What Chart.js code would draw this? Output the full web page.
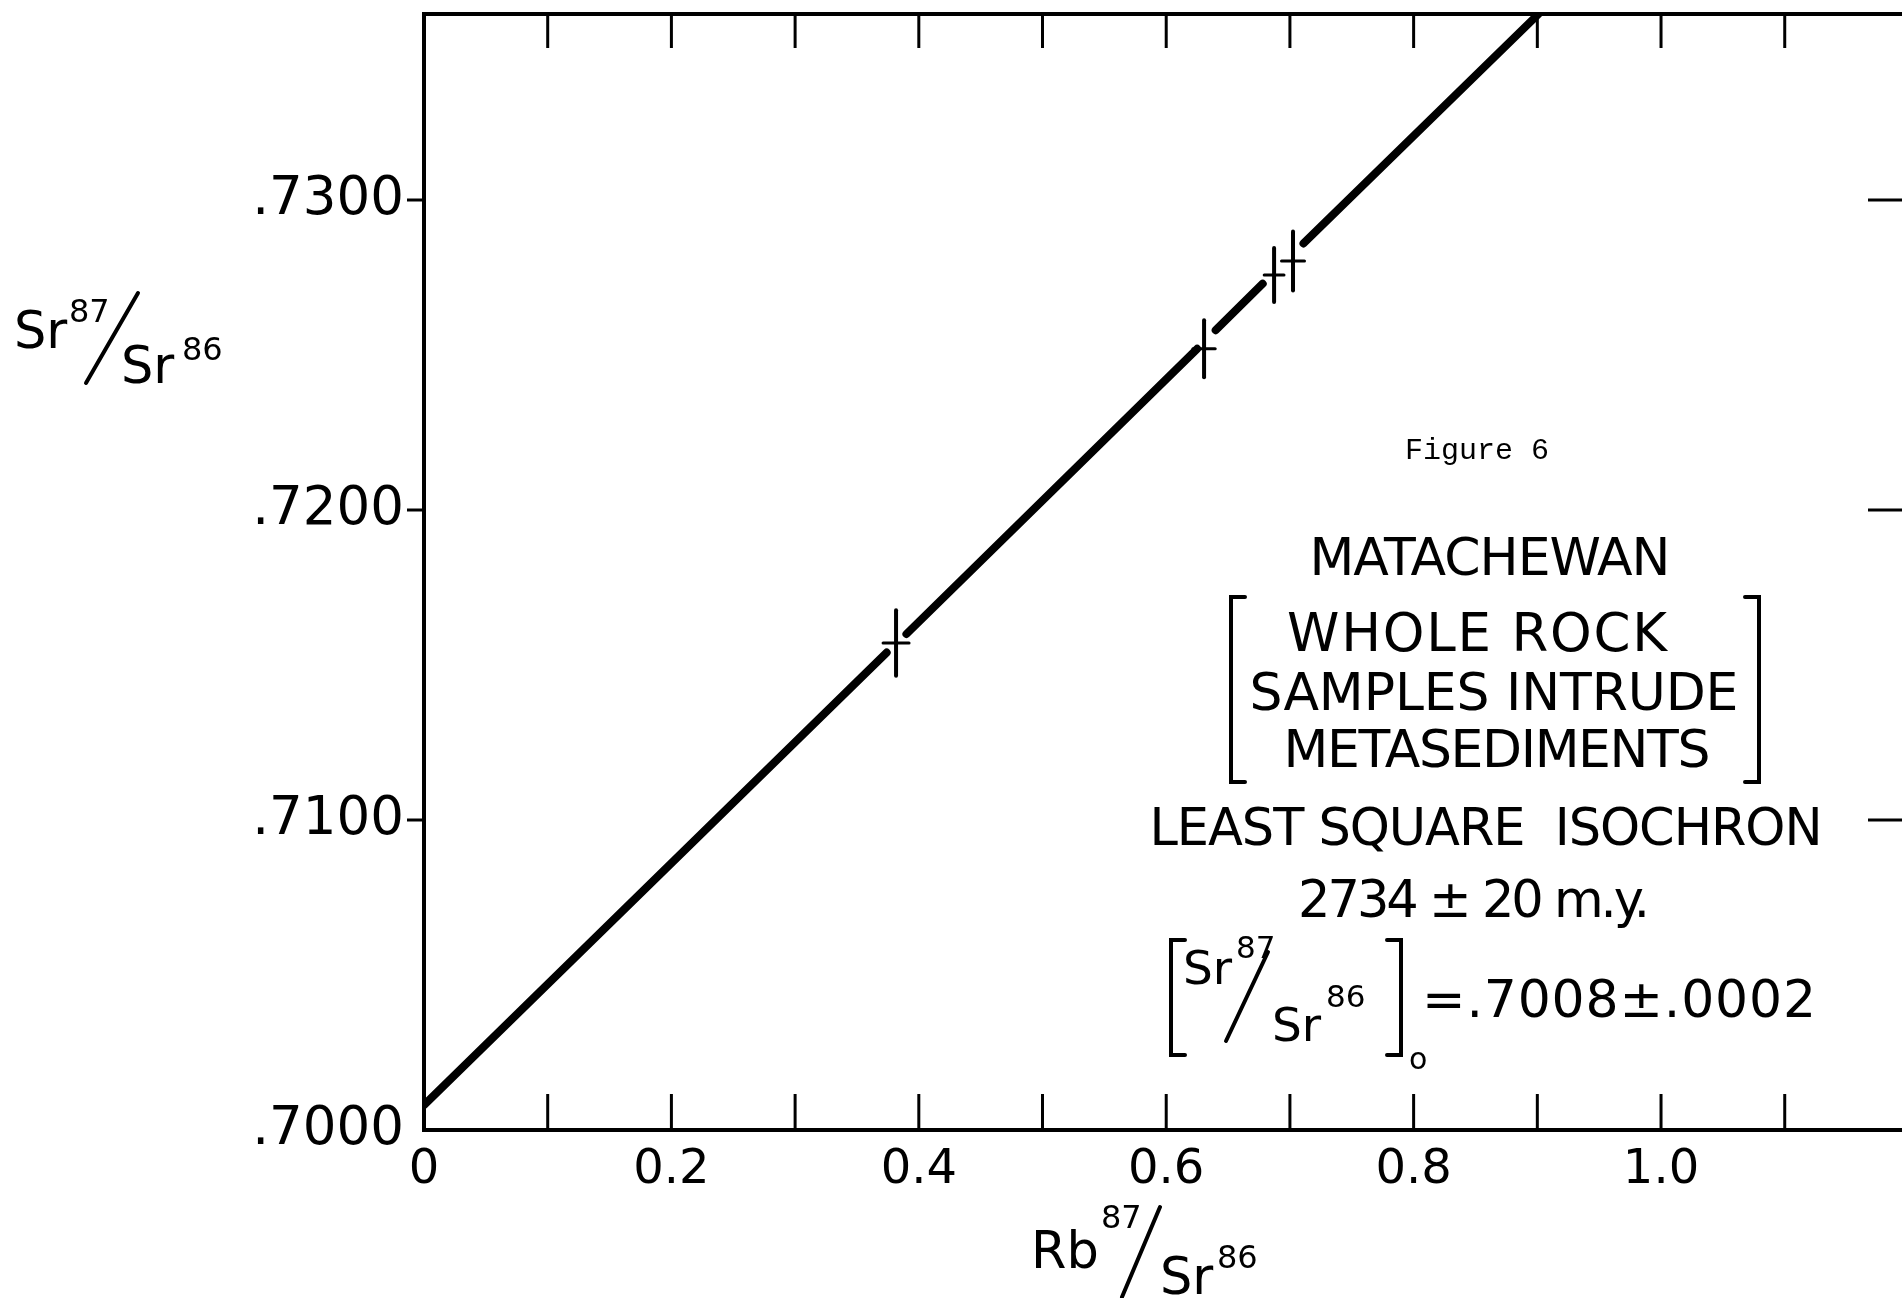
<!DOCTYPE html>
<html>
<head>
<meta charset="utf-8">
<script src="https://cdn.jsdelivr.net/npm/chart.js@4/dist/chart.umd.min.js"></script>
<style>
html,body{margin:0;padding:0;background:#fff;overflow:hidden}
canvas{display:block}
</style>
</head>
<body>
<canvas id="c" width="1902" height="1298"></canvas>
<script>
// ---- data ----
const xLabelValues = [0, 0.2, 0.4, 0.6, 0.8, 1.0];
const xLabelText = ['0', '0.2', '0.4', '0.6', '0.8', '1.0'];
const xTickMarks = [0.1, 0.2, 0.3, 0.4, 0.5, 0.6, 0.7, 0.8, 0.9, 1.0, 1.1];
const yLabelValues = [0.70, 0.71, 0.72, 0.73];
const yLabelText = ['.7000', '.7100', '.7200', '.7300'];
const yTickMarks = [0.71, 0.72, 0.73];

// whole-rock samples (Rb87/Sr86, Sr87/Sr86) with error-bar half widths
const sampleX = [0.3816, 0.6306, 0.6872, 0.7025];
const sampleY = [0.71571, 0.72520, 0.72758, 0.72803];
const sampleXErr = [0.0105, 0.0090, 0.0080, 0.0093];
const sampleYErr = [0.00106, 0.00092, 0.00087, 0.00095];

// least-squares isochron as drawn (broken around the sample crosses)
const isochronX = [0, 0.374, 0.382, 0.390, 0.625, 0.632, 0.640, 0.678, 0.694, 0.711, 0.901];
const isochronY = [0.7008, 0.7154, null, 0.7160, 0.7252, null, 0.7258, 0.7273, null, 0.7286, 0.7360];

const INK = '#000';

function fitText(ctx, s, x, y, size, family, targetW, align) {
  ctx.font = size + 'px ' + family;
  ctx.letterSpacing = '0px';
  const w = ctx.measureText(s).width;
  let ls = 0;
  if (targetW && s.length > 1) ls = (targetW - w) / (s.length - 1);
  ctx.letterSpacing = ls.toFixed(2) + 'px';
  ctx.textAlign = 'left';
  ctx.textBaseline = 'alphabetic';
  let left = x;
  const tw = w + ls * (s.length - 1);
  if (align === 'center') left = x - tw / 2;
  ctx.fillText(s, left, y);
  ctx.letterSpacing = '0px';
}
function plain(ctx, s, x, y, size, family) {
  ctx.font = size + 'px ' + family;
  ctx.letterSpacing = '0px';
  ctx.textAlign = 'left';
  ctx.textBaseline = 'alphabetic';
  ctx.fillText(s, x, y);
}
function seg(ctx, x1, y1, x2, y2, w) {
  ctx.lineWidth = w;
  ctx.beginPath();
  ctx.moveTo(x1, y1);
  ctx.lineTo(x2, y2);
  ctx.stroke();
}
function bracket(ctx, x, y1, y2, serif) {
  ctx.lineWidth = 4;
  ctx.beginPath();
  ctx.moveTo(x + serif, y1);
  ctx.lineTo(x, y1);
  ctx.lineTo(x, y2);
  ctx.lineTo(x + serif, y2);
  ctx.stroke();
}

const framePlugin = {
  id: 'frame',
  beforeDatasetsDraw(chart) {
    const {ctx, chartArea: a, scales: {x, y}} = chart;
    ctx.save();
    ctx.strokeStyle = INK;
    ctx.lineCap = 'butt';
    // top frame line
    seg(ctx, a.left - 2, a.top, a.right, a.top, 4);
    xTickMarks.forEach(v => {
      const px = x.getPixelForValue(v);
      seg(ctx, px, a.bottom, px, a.bottom - 36, 3);
      seg(ctx, px, a.top, px, a.top + 34, 3);
    });
    yTickMarks.forEach(v => {
      const py = y.getPixelForValue(v);
      seg(ctx, a.left - 17, py, a.left, py, 3);
      seg(ctx, a.right - 34, py, a.right, py, 3);
    });
    ctx.restore();
  }
};

const crossPlugin = {
  id: 'crosses',
  afterDatasetsDraw(chart) {
    const {ctx, scales: {x, y}} = chart;
    ctx.save();
    ctx.strokeStyle = INK;
    ctx.lineCap = 'round';
    sampleX.forEach((vx, i) => {
      const vy = sampleY[i];
      const px = x.getPixelForValue(vx), py = y.getPixelForValue(vy);
      seg(ctx, x.getPixelForValue(vx - sampleXErr[i]), py, x.getPixelForValue(vx + sampleXErr[i]), py, 3);
      seg(ctx, px, y.getPixelForValue(vy - sampleYErr[i]), px, y.getPixelForValue(vy + sampleYErr[i]), 4);
    });
    ctx.restore();
  }
};

const textPlugin = {
  id: 'texts',
  afterDraw(chart) {
    const ctx = chart.ctx;
    const F = '"DejaVu Sans", sans-serif';
    ctx.save();
    ctx.fillStyle = INK;
    ctx.strokeStyle = INK;
    ctx.lineCap = 'round';

    // y-axis title  Sr87/Sr86
    plain(ctx, 'Sr', 14, 348, 51, F);
    plain(ctx, '87', 69, 322, 32, F);
    seg(ctx, 86, 383, 138, 293, 4);
    plain(ctx, 'Sr', 121, 383, 51, F);
    plain(ctx, '86', 182, 360, 32, F);

    // x-axis title  Rb87/Sr86
    plain(ctx, 'Rb', 1031, 1268, 51, F);
    plain(ctx, '87', 1101, 1228, 32, F);
    seg(ctx, 1122, 1297, 1160, 1207, 4);
    plain(ctx, 'Sr', 1160, 1294, 51, F);
    plain(ctx, '86', 1217, 1268, 32, F);

    // annotation block
    ctx.font = '30px "Liberation Mono", "DejaVu Sans Mono", monospace';
    ctx.textAlign = 'center';
    ctx.textBaseline = 'alphabetic';
    ctx.fillText('Figure 6', 1477, 459);

    fitText(ctx, 'MATACHEWAN', 1490, 575, 52, F, 361, 'center');
    bracket(ctx, 1231, 597, 782, 14);
    bracket(ctx, 1759, 597, 782, -14);
    fitText(ctx, 'WHOLE ROCK', 1477, 651, 53, F, 380, 'center');
    fitText(ctx, 'SAMPLES INTRUDE', 1494, 710, 52, F, 489, 'center');
    fitText(ctx, 'METASEDIMENTS', 1497, 767, 52, F, 427, 'center');
    fitText(ctx, 'LEAST SQUARE  ISOCHRON', 1486, 845, 51, F, 673, 'center');
    fitText(ctx, '2734 \u00B1 20 m.y.', 1474, 917, 51, F, 352, 'center');

    // [Sr87/Sr86]o = .7008 ± .0002
    bracket(ctx, 1171, 940, 1055, 14);
    bracket(ctx, 1401, 940, 1055, -14);
    plain(ctx, 'Sr', 1183, 984, 47, F);
    plain(ctx, '87', 1236, 958, 31, F);
    seg(ctx, 1226, 1041, 1268, 952, 4);
    plain(ctx, 'Sr', 1272, 1041, 47, F);
    plain(ctx, '86', 1326, 1007, 31, F);
    plain(ctx, 'o', 1409, 1069, 30, F);
    fitText(ctx, '=.7008\u00B1.0002', 1422, 1017, 52, F, 394, 'left');
    ctx.restore();
  }
};

new Chart(document.getElementById('c'), {
  type: 'scatter',
  data: {
    datasets: [
      {
        label: 'Least square isochron',
        data: isochronX.map((x, i) => ({x: x, y: isochronY[i]})),
        showLine: true,
        spanGaps: false,
        borderColor: INK,
        borderWidth: 8,
        borderCapStyle: 'round',
        pointRadius: 0,
        clip: 0
      },
      {
        label: 'Whole rock samples',
        data: sampleX.map((x, i) => ({x: x, y: sampleY[i]})),
        showLine: false,
        pointRadius: 0
      }
    ]
  },
  options: {
    responsive: false,
    animation: false,
    devicePixelRatio: 1,
    layout: {padding: {top: 14, right: 0, bottom: 0, left: 0}},
    plugins: {legend: {display: false}, tooltip: {enabled: false}},
    scales: {
      x: {
        type: 'linear',
        min: 0,
        max: 1.1948,
        grid: {display: false, drawTicks: false},
        border: {display: true, color: INK, width: 4},
        afterBuildTicks: s => { s.ticks = xLabelValues.map(v => ({value: v})); },
        afterFit: s => { s.height = 168; s.paddingLeft = 0; s.paddingRight = 0; },
        ticks: {
          autoSkip: false, maxRotation: 0, minRotation: 0, padding: 12, color: INK,
          font: {family: 'DejaVu Sans', size: 48},
          callback: (v, i) => xLabelText[i]
        }
      },
      y: {
        type: 'linear',
        min: 0.7,
        max: 0.736,
        grid: {display: false, drawTicks: false},
        border: {display: true, color: INK, width: 4},
        afterBuildTicks: s => { s.ticks = yLabelValues.map(v => ({value: v})); },
        afterFit: s => { s.width = 424; s.paddingTop = 0; s.paddingBottom = 0; },
        ticks: {
          autoSkip: false, padding: 20, color: INK,
          font: {family: 'DejaVu Sans', size: 53},
          callback: (v, i) => yLabelText[i]
        }
      }
    }
  },
  plugins: [framePlugin, crossPlugin, textPlugin]
});
</script>
</body>
</html>
